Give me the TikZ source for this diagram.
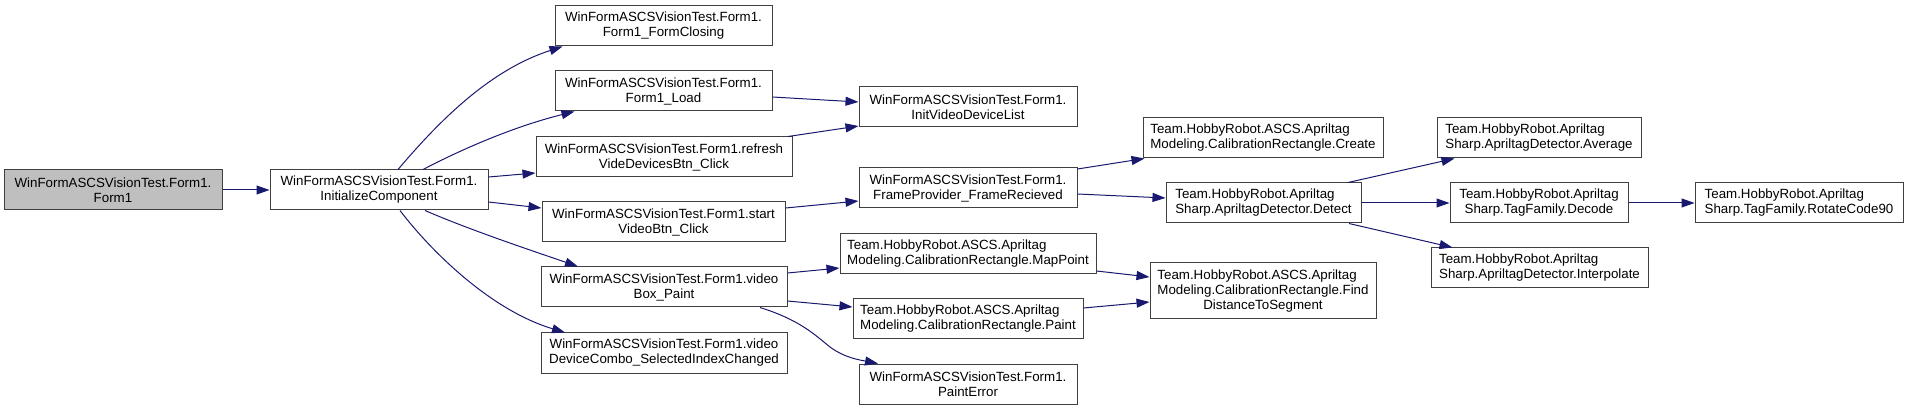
\documentclass[tikz,border=0pt]{standalone}
\usepackage{fontspec}
\setmainfont{Liberation Sans}
\usetikzlibrary{arrows.meta,calc}
\definecolor{edgeblue}{HTML}{191970}
\definecolor{boxline}{HTML}{404040}
\definecolor{rootfill}{HTML}{BFBFBF}
\newlength\fdwidth
\begin{document}
\begin{tikzpicture}[x=1pt,y=-1pt,
  fn/.style={draw=boxline, line width=1pt, fill=white, inner sep=0pt,
    minimum height=40pt, font=\fontsize{13.33}{15}\selectfont, text=black, align=center},
  fl/.style={fn, align=left},
  root/.style={fn, fill=rootfill},
  call/.style={draw=edgeblue, line width=1pt, -{Triangle[length=13pt,width=9pt]}}]
\useasboundingbox (0,0) rectangle (1908,411);

\node[root, minimum width=218pt] (f1) at (113,190) {WinFormASCSVisionTest.Form1.\\Form1};
\node[fn, minimum width=218pt] (ic) at (379,190) {WinFormASCSVisionTest.Form1.\\InitializeComponent};
\node[fn, minimum width=217pt] (fc) at (663.5,26) {WinFormASCSVisionTest.Form1.\\Form1\_FormClosing};
\node[fn, minimum width=217pt] (ld) at (663.5,91) {WinFormASCSVisionTest.Form1.\\Form1\_Load};
\node[fn, minimum width=256pt] (rf) at (664,157) {WinFormASCSVisionTest.Form1.refresh\\VideDevicesBtn\_Click};
\node[fn, minimum width=243pt] (sv) at (663.5,222) {WinFormASCSVisionTest.Form1.start\\VideoBtn\_Click};
\node[fn, minimum width=246pt] (vb) at (664,287) {WinFormASCSVisionTest.Form1.video\\Box\_Paint};
\node[fn, minimum width=246pt] (cb) at (664,353) {WinFormASCSVisionTest.Form1.video\\DeviceCombo\_SelectedIndexChanged};
\node[fn, minimum width=218pt] (iv) at (968,107) {WinFormASCSVisionTest.Form1.\\InitVideoDeviceList};
\node[fn, minimum width=218pt] (fp) at (968,188) {WinFormASCSVisionTest.Form1.\\FrameProvider\_FrameRecieved};
\node[fl, minimum width=256pt] (mp) at (968,254) {Team.HobbyRobot.ASCS.Apriltag\\Modeling.CalibrationRectangle.MapPoint};
\node[fl, minimum width=230pt] (pt) at (968,319) {Team.HobbyRobot.ASCS.Apriltag\\Modeling.CalibrationRectangle.Paint};
\node[fn, minimum width=218pt] (pe) at (968,384) {WinFormASCSVisionTest.Form1.\\PaintError};
\node[fl, minimum width=240pt] (cr) at (1263,138) {Team.HobbyRobot.ASCS.Apriltag\\Modeling.CalibrationRectangle.Create};
\node[fl, minimum width=195pt] (dt) at (1263.5,203) {Team.HobbyRobot.Apriltag\\Sharp.ApriltagDetector.Detect};
\node[fn, minimum width=226pt, minimum height=56pt] (fd) at (1263,291)
  {\settowidth{\fdwidth}{Modeling.CalibrationRectangle.Find}\makebox[\fdwidth][l]{Team.HobbyRobot.ASCS.Apriltag}\\Modeling.CalibrationRectangle.Find\\DistanceToSegment};
\node[fl, minimum width=204pt] (av) at (1539,138) {Team.HobbyRobot.Apriltag\\Sharp.ApriltagDetector.Average};
\node[fn, minimum width=178pt] (dc) at (1539,203) {Team.HobbyRobot.Apriltag\\Sharp.TagFamily.Decode};
\node[fl, minimum width=217pt] (ip) at (1539.5,268) {Team.HobbyRobot.Apriltag\\Sharp.ApriltagDetector.Interpolate};
\node[fl, minimum width=208pt] (rc) at (1799,203) {Team.HobbyRobot.Apriltag\\Sharp.TagFamily.RotateCode90};

% edges
\draw[call] (f1) -- (ic);
\draw[call] ($(ic.north)+(19,0)$) .. controls (440,120) and (490,70) .. ($(fc.south west)+(8,0)$);
\draw[call] ($(ic.north)+(44,0)$) .. controls (470,145) and (520,125) .. ($(ld.south west)+(20,0)$);
\draw[call] ($(ic.east)+(0,-13)$) -- ($(rf.west)+(0,16)$);
\draw[call] ($(ic.east)+(0,12)$) -- ($(sv.west)+(0,-14)$);
\draw[call] ($(ic.south)+(46,0)$) .. controls (470,230) and (530,250) .. ($(vb.north)+(-86,0)$);
\draw[call] ($(ic.south)+(21,0)$) .. controls (430,250) and (490,310) .. ($(cb.north)+(-99,0)$);
\draw[call] ($(ld.east)+(0,6)$) -- ($(iv.west)+(0,-5)$);
\draw[call] ($(rf.north)+(124,0)$) -- ($(iv.west)+(0,19)$);
\draw[call] ($(sv.east)+(0,-14)$) -- ($(fp.west)+(0,13)$);
\draw[call] ($(fp.east)+(0,-19)$) -- ($(cr.south west)+(2,0)$);
\draw[call] ($(fp.east)+(0,6)$) -- ($(dt.west)+(0,-5)$);
\draw[call] ($(vb.east)+(0,-14)$) -- ($(mp.west)+(0,14)$);
\draw[call] ($(vb.east)+(0,14)$) -- ($(pt.west)+(0,-12)$);
\draw[call] ($(vb.south)+(96,0)$) .. controls (800,320) and (815,335) .. (830,347)
  .. controls (845,358) and (860,360) .. ($(pe.north)+(-90,0)$);
\draw[call] ($(mp.east)+(0,17)$) -- ($(fd.west)+(0,-14)$);
\draw[call] ($(pt.east)+(0,-11)$) -- ($(fd.west)+(0,11)$);
\draw[call] ($(dt.north)+(84.5,0)$) -- ($(av.south west)+(18,0)$);
\draw[call] (dt) -- (dc);
\draw[call] ($(dt.south)+(85.5,0)$) -- ($(ip.north west)+(22,0)$);
\draw[call] (dc) -- (rc);
\end{tikzpicture}
\end{document}
